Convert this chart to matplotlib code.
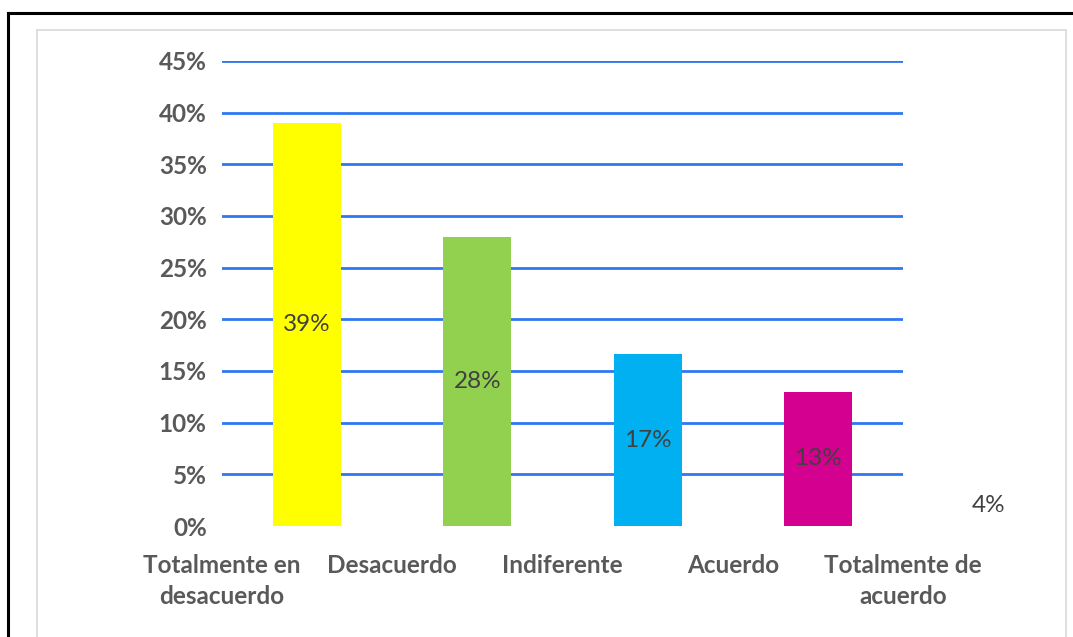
import matplotlib
matplotlib.use("Agg")
from matplotlib import pyplot as plt
from matplotlib.patches import Rectangle
from matplotlib.lines import Line2D
from matplotlib.ticker import PercentFormatter

categories = ["Totalmente en\ndesacuerdo", "Desacuerdo", "Indiferente", "Acuerdo", "Totalmente de\nacuerdo"]
values = [0.39, 0.28, 0.166, 0.13, 0.04]
bar_labels = ["39%", "28%", "17%", "13%", "4%"]
colors = ["#FFFF00", "#92D050", "#00B0F0", "#D4008F", "#7F7F7F"]
yticks = [0.05, 0.10, 0.15, 0.20, 0.25, 0.30, 0.35, 0.40, 0.45]

plt.rcParams['font.family'] = ['Lato', 'DejaVu Sans']

W, H = 1073, 637
fig = plt.figure(figsize=(W / 100, H / 100), dpi=100)
ax = fig.add_axes([222 / W, (H - 526) / H, (903 - 222) / W, (526 - 61) / H])

# frames around the chart
fig.add_artist(Line2D([8 / W, 8 / W], [0, (H - 13) / H], color="black", lw=2.2))
fig.add_artist(Line2D([8 / W, 1], [(H - 13) / H, (H - 13) / H], color="black", lw=2.2))
fig.add_artist(Rectangle((37 / W, -0.01), (1066 - 37) / W, (H - 30) / H + 0.01,
                         fill=False, edgecolor="#D9D9D9", lw=1.2))

x = list(range(len(values)))
ax.bar(x, values, width=0.4, color=colors, zorder=3)
for xi, v, lab in zip(x, values, bar_labels):
    ax.text(xi, v / 2, lab, ha="center", va="center", fontsize=17.5,
            color="#404040", clip_on=False, zorder=4)

ax.set_xlim(-0.5, 3.5)
ax.set_ylim(0, 0.45)
ax.set_yticks([0] + yticks)
ax.yaxis.set_major_formatter(PercentFormatter(1.0, decimals=0))
for y in yticks:
    ax.axhline(y, color="#2F78F2", lw=2, zorder=1)

ax.set_xticks([-0.5, 0.5, 1.5, 2.5, 3.5])
ax.set_xticklabels(categories, fontweight="bold", fontsize=17.5, color="#595959",
                   linespacing=1.45)
ax.tick_params(axis="x", length=0, pad=20)
ax.tick_params(axis="y", length=0, pad=11, labelsize=17.5, labelcolor="#595959")
for t in ax.get_yticklabels():
    t.set_fontweight("bold")
for s in ax.spines.values():
    s.set_visible(False)

fig.savefig("out.png", dpi=100)
